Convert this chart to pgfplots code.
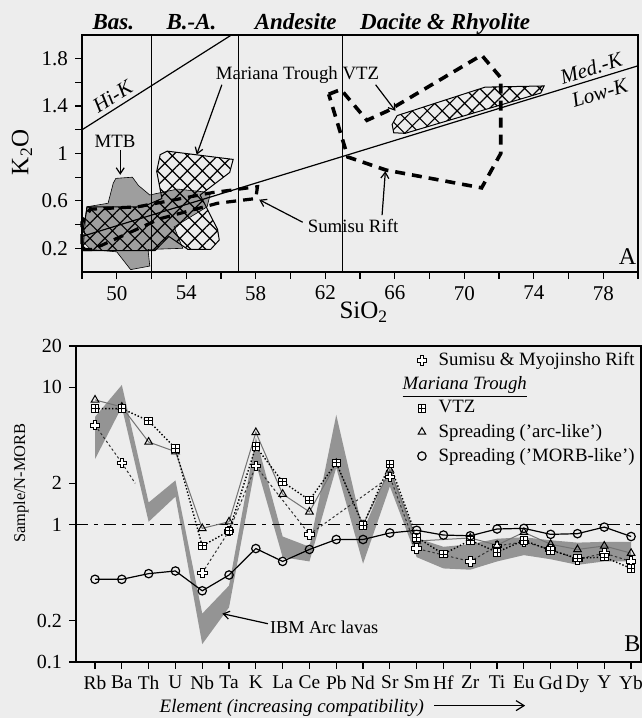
\documentclass[border=0pt]{standalone}
\usepackage{fontspec}
\setmainfont{Liberation Serif}
\usepackage{pgfplots}
\pgfplotsset{compat=1.18}
\usetikzlibrary{patterns.meta,arrows.meta}

\pgfdeclareplotmark{ocross}{%
  \pgfmathsetlengthmacro{\mkA}{\pgfplotmarksize}%
  \pgfmathsetlengthmacro{\mkB}{0.38*\pgfplotmarksize}%
  \pgfpathmoveto{\pgfpoint{\mkB}{\mkB}}%
  \pgfpathlineto{\pgfpoint{\mkB}{\mkA}}%
  \pgfpathlineto{\pgfpoint{-\mkB}{\mkA}}%
  \pgfpathlineto{\pgfpoint{-\mkB}{\mkB}}%
  \pgfpathlineto{\pgfpoint{-\mkA}{\mkB}}%
  \pgfpathlineto{\pgfpoint{-\mkA}{-\mkB}}%
  \pgfpathlineto{\pgfpoint{-\mkB}{-\mkB}}%
  \pgfpathlineto{\pgfpoint{-\mkB}{-\mkA}}%
  \pgfpathlineto{\pgfpoint{\mkB}{-\mkA}}%
  \pgfpathlineto{\pgfpoint{\mkB}{-\mkB}}%
  \pgfpathlineto{\pgfpoint{\mkA}{-\mkB}}%
  \pgfpathlineto{\pgfpoint{\mkA}{\mkB}}%
  \pgfpathclose
  \pgfusepathqfillstroke
}
\pgfdeclareplotmark{sqplus}{%
  \pgfpathrectangle{\pgfpoint{-\pgfplotmarksize}{-\pgfplotmarksize}}{\pgfpoint{2\pgfplotmarksize}{2\pgfplotmarksize}}%
  \pgfusepathqfillstroke
  \pgfpathmoveto{\pgfpoint{-\pgfplotmarksize}{0pt}}\pgfpathlineto{\pgfpoint{\pgfplotmarksize}{0pt}}%
  \pgfpathmoveto{\pgfpoint{0pt}{-\pgfplotmarksize}}\pgfpathlineto{\pgfpoint{0pt}{\pgfplotmarksize}}%
  \pgfusepathqstroke
}

\newcommand{\fs}[1]{\fontsize{#1}{#1}\selectfont}

\begin{document}
\begin{tikzpicture}[x=1pt,y=1pt]
\fill[black!7] (0,0) rectangle (321,359);
\useasboundingbox (0,0) rectangle (321,359);

% ---------------- Panel A ----------------
\begin{axis}[
  at={(41pt,223pt)}, anchor=south west,
  scale only axis, width=278pt, height=118.5pt,
  xmin=48, xmax=80, ymin=0, ymax=2,
  xtick={50,54,...,78}, minor xtick={48,52,...,80},
  ytick={0.2,0.6,1,1.4,1.8}, minor ytick={0.4,0.8,1.2,1.6},
  xtick pos=left, ytick pos=left,
  tick align=outside, major tick length=3.5pt, minor tick length=3.5pt,
  tick style={black, line width=0.6pt},
  axis line style={line width=0.6pt},
  /pgf/number format/assume math mode=true,
  ticklabel style={font=\fs{10.5}},
  xlabel={SiO\textsubscript{2}}, ylabel={K\textsubscript{2}O},
  label style={font=\fs{12.5}},
  xlabel style={at={(axis description cs:0.507,-0.17)}, anchor=center},
  ylabel style={at={(axis description cs:-0.108,0.506)}, anchor=center},
  clip=false,
]
% MTB grey field
\addplot[fill=black!38, draw=black, line width=0.3pt] coordinates {
 (48.27,0.55)(49.5,0.58)(49.8,0.75)(49.95,0.79)(50.9,0.80)(51.25,0.73)(51.9,0.65)
 (53.5,0.70)(55.4,0.67)(55.2,0.55)(53.3,0.38)(53.8,0.20)(51.8,0.19)(51.9,0.05)
 (50.8,0.02)(50.0,0.17)(48.5,0.19)(48.1,0.25)(48.2,0.45)} -- cycle;
% Mariana Trough VTZ fields (cross-hatched)
\addplot[pattern={Hatch[angle=45,distance=5.3pt,line width=0.6pt]}, draw=black, line width=0.5pt] coordinates {
 (52.5,0.99)(52.9,1.02)(56.7,0.95)(56.5,0.84)(54.8,0.65)(55.8,0.36)(55.9,0.27)
 (55.4,0.19)(54.1,0.19)(53.0,0.30)(52.2,0.18)(48.1,0.18)(48.0,0.30)(48.3,0.55)
 (51.5,0.55)(52.6,0.62)(52.3,0.85)} -- cycle;
\addplot[pattern={Hatch[angle=45,distance=5.3pt,line width=0.6pt]}, draw=black, line width=0.5pt] coordinates {
 (65.94,1.175)(65.85,1.245)(66.14,1.32)(71.2,1.56)(74.6,1.57)(74.4,1.51)(66.6,1.17)} -- cycle;
% Sumisu Rift fields (thick dashed)
\addplot[draw=black, line width=1.8pt, dash pattern=on 5pt off 3.5pt] coordinates {
 (62.2,1.50)(62.9,1.54)(64.4,1.28)(65.6,1.36)(71.0,1.83)(72.1,1.64)(72.1,1.0)
 (71.0,0.71)(65.5,0.86)(63.3,0.97)} -- cycle;
\addplot[draw=black, line width=1.6pt, dash pattern=on 5pt off 3.5pt] coordinates {
 (48.0,0.19)(48.6,0.19)(52.5,0.45)(55.8,0.58)(58.0,0.62)(58.1,0.72)(55.5,0.67)
 (51.2,0.55)(48.5,0.53)(48.0,0.42)} -- cycle;
% boundaries
\addplot[black, line width=0.6pt] coordinates {(52,0)(52,2)};
\addplot[black, line width=0.6pt] coordinates {(57,0)(57,2)};
\addplot[black, line width=0.6pt] coordinates {(63,0)(63,2)};
\addplot[black, line width=0.6pt] coordinates {(48,1.2)(56.6,2.0)};
\addplot[black, line width=0.6pt] coordinates {(48,0.30)(80,1.74)};
% labels
\node[font=\fs{10.5}\itshape, rotate=32, inner sep=0pt] at (axis cs:49.75,1.48) {Hi-K};
\node[font=\fs{10.5}\itshape, rotate=17, inner sep=0pt] at (axis cs:77.3,1.72) {Med.-K};
\node[font=\fs{10.5}\itshape, rotate=17, inner sep=0pt] at (axis cs:77.8,1.51) {Low-K};
\node[font=\fs{12}] at (axis cs:79.4,0.13) {A};
\node[font=\fs{11.5}\bfseries\itshape, anchor=base] at (axis cs:49.8,2.05) {Bas.};
\node[font=\fs{11.5}\bfseries\itshape, anchor=base] at (axis cs:54.3,2.05) {B.-A.};
\node[font=\fs{11.5}\bfseries\itshape, anchor=base] at (axis cs:60.3,2.05) {Andesite};
\node[font=\fs{11.5}\bfseries\itshape, anchor=base] at (axis cs:68.9,2.05) {Dacite \& Rhyolite};
\node[font=\fs{9.4}] at (axis cs:49.9,1.10) {MTB};
\draw[-{Straight Barb[length=3pt,width=4pt]}, line width=0.6pt] (axis cs:50.2,1.03) -- (axis cs:50.2,0.82);
\node[font=\fs{9.4}] at (axis cs:60.4,1.66) {Mariana Trough VTZ};
\draw[-{Straight Barb[length=3pt,width=4pt]}, line width=0.6pt] (axis cs:56.05,1.58) -- (axis cs:54.6,0.99);
\draw[-{Straight Barb[length=3pt,width=4pt]}, line width=0.6pt] (axis cs:64.9,1.58) -- (axis cs:66.04,1.36);
\node[font=\fs{9.4}] at (axis cs:63.6,0.39) {Sumisu Rift};
\draw[-{Straight Barb[length=3pt,width=4pt]}, line width=0.6pt] (axis cs:60.7,0.42) -- (axis cs:58.2,0.61);
\draw[-{Straight Barb[length=3pt,width=4pt]}, line width=0.6pt] (axis cs:65.27,0.48) -- (axis cs:65.46,0.85);
\end{axis}

% ---------------- Panel B ----------------
\begin{axis}[
  at={(38pt,28pt)}, anchor=south west,
  scale only axis, width=282.5pt, height=158pt,
  ymode=log, ymin=0.1, ymax=20, xmin=-0.71, xmax=20.37,
  xtick={0,...,20},
  xticklabels={Rb,Ba,Th,U,Nb,Ta,K,La,Ce,Pb,Nd,Sr,Sm,Hf,Zr,Ti,Eu,Gd,Dy,Y,Yb},
  ytick={0.1,0.2,1,2,10,20}, yticklabels={0.1,0.2,1,2,10,20},
  yminorticks=false,
  xtick pos=left, ytick pos=left,
  tick align=outside, major tick length=3.5pt,
  tick style={black, line width=0.6pt},
  axis line style={line width=0.6pt},
  x tick label style={font=\fs{9.7}},
  y tick label style={font=\fs{10}},
  ylabel={Sample/N-MORB},
  ylabel style={font=\fs{8.2}, at={(axis description cs:-0.097,0.566)}, anchor=center},
  clip=false,
  unbounded coords=jump,
  legend style={draw=none, fill=none, at={(axis description cs:1,1)}, anchor=north east,
    font=\fs{9.4}, row sep=0pt, inner sep=1pt},
  legend cell align=left,
]
% IBM arc lavas band
\addplot[fill=black!42, draw=none, forget plot] coordinates {
 (0,6.1)(1,10.4)(2,1.45)(3,2.1)(4,0.225)(5,0.36)(6,4.3)(7,0.82)(8,0.69)(9,6.3)(10,0.9)
 (11,2.6)(12,0.80)(13,0.69)(14,0.72)(15,0.79)(16,0.81)(17,0.77)(18,0.74)(19,0.75)(20,0.75)
 (20,0.54)(19,0.54)(18,0.51)(17,0.56)(16,0.60)(15,0.54)(14,0.47)(13,0.48)(12,0.58)(11,1.9)
 (10,0.52)(9,2.6)(8,0.54)(7,0.58)(6,2.8)(5,0.25)(4,0.135)(3,1.6)(2,1.05)(1,7.2)(0,3.0)} -- cycle;
% N-MORB = 1
\addplot[black, line width=0.6pt, dash pattern=on 6pt off 3pt on 2pt off 3pt, forget plot] coordinates {(-0.71,1)(20.37,1)};
% Sumisu & Myojinsho Rift
\addplot[black!80, line width=0.5pt, dash pattern=on 1.2pt off 1.2pt, forget plot] coordinates {(1,2.82)(1.5,2.0)};
\addplot[black!80, line width=0.5pt, dash pattern=on 1.2pt off 1.2pt, mark=ocross, mark size=2.4pt,
  mark options={solid, fill=white, draw=black, line width=0.5pt}, forget plot] coordinates {
 (0,5.3)(1,2.82)(2,nan)(4,0.445)(5,0.9)(6,2.67)(8,0.85)(11,2.23)(12,0.67)(14,0.54)(15,0.70)
 (16,0.75)(17,0.66)(18,0.56)(19,0.62)(20,0.54)};
% Spreading (arc-like)
\addplot[black!55, line width=0.5pt, mark=triangle, mark size=2.2pt,
  mark options={solid, fill=white, draw=black, line width=0.5pt}, forget plot] coordinates {
 (0,8.1)(1,7.2)(2,4.0)(3,3.4)(4,0.94)(5,1.05)(6,4.7)(7,1.67)(8,1.24)(9,2.8)(10,1.0)(11,2.5)
 (12,0.76)(14,0.80)(15,0.71)(16,0.88)(17,0.72)(18,0.66)(19,0.70)(20,0.62)};
% VTZ
\addplot[black, line width=0.7pt, densely dotted, mark=sqplus, mark size=1.9pt,
  mark options={solid, fill=white, draw=black, line width=0.5pt}, forget plot] coordinates {
 (0,7.0)(1,7.0)(2,5.7)(3,3.6)(4,0.70)(5,0.90)(6,3.7)(7,2.05)(8,1.51)(9,2.82)(10,0.99)(11,2.76)
 (12,0.81)(13,0.61)(14,0.77)(15,0.63)(16,0.77)(17,0.65)(18,0.57)(19,0.58)(20,0.48)};
% Spreading (MORB-like)
\addplot[black, line width=0.6pt, mark=o, mark size=2.1pt,
  mark options={solid, fill=white, draw=black, line width=0.6pt}, forget plot] coordinates {
 (0,0.40)(1,0.40)(2,0.44)(3,0.46)(4,0.33)(5,0.43)(6,0.67)(7,0.54)(8,0.66)(9,0.78)(10,0.78)
 (11,0.87)(12,0.91)(13,0.84)(14,0.83)(15,0.93)(16,0.94)(17,0.85)(18,0.86)(19,0.96)(20,0.82)};
% legend
\addlegendimage{only marks, mark=ocross, mark size=2.4pt, mark options={fill=white, draw=black, line width=0.5pt}}
\addlegendentry{\hspace{4pt}Sumisu \& Myojinsho Rift}
\addlegendimage{empty legend}
\addlegendentry{\hspace{-14pt}\underline{\textit{Mariana Trough}}}
\addlegendimage{only marks, mark=sqplus, mark size=1.9pt, mark options={fill=white, draw=black, line width=0.5pt}}
\addlegendentry{\hspace{4pt}VTZ}
\addlegendimage{only marks, mark=triangle, mark size=2.2pt, mark options={fill=white, draw=black, line width=0.5pt}}
\addlegendentry{\hspace{4pt}Spreading ('arc-like')}
\addlegendimage{only marks, mark=o, mark size=2.1pt, mark options={fill=white, draw=black, line width=0.6pt}}
\addlegendentry{\hspace{4pt}Spreading ('MORB-like')}
% annotations
\node[font=\fs{9.1}] at (axis cs:8.55,0.18) {IBM Arc lavas};
\draw[-{Straight Barb[length=3pt,width=4pt]}, line width=0.6pt] (axis cs:6.45,0.19) -- (axis cs:4.75,0.225);
\node[font=\fs{12}] at (axis cs:20.05,0.135) {B};
\node[font=\fs{9.5}\itshape] at (axis description cs:0.382,-0.146) {Element (increasing compatibility)};
\draw[-{Straight Barb[length=4pt,width=5pt]}, line width=0.6pt] (axis description cs:0.634,-0.138) -- (axis description cs:0.795,-0.138);
\end{axis}
\end{tikzpicture}
\end{document}
